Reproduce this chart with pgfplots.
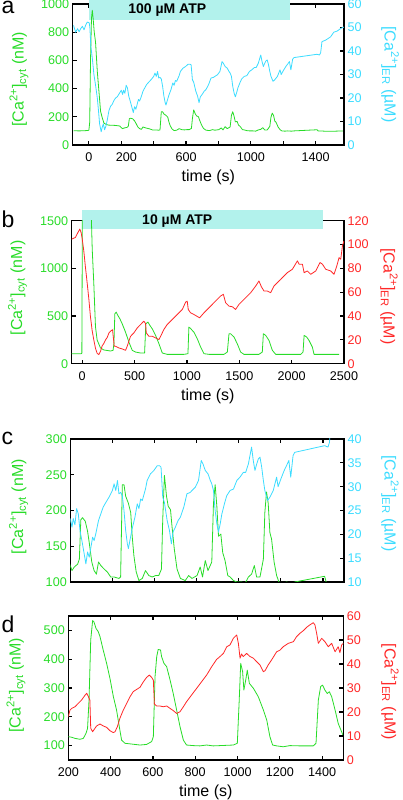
\documentclass[border=0pt]{standalone}
\usepackage{fontspec}
\setmainfont{Liberation Sans}
\usepackage{pgfplots}
\usepackage{pgfplotstable}
\pgfplotsset{compat=1.18}
\definecolor{ggreen}{RGB}{40,220,40}
\definecolor{gcyan}{RGB}{60,220,255}
\definecolor{gred}{RGB}{255,40,40}
\definecolor{atpbar}{RGB}{178,242,236}

\pgfplotstableread[row sep=\\]{t v\\
-95 101\\ -60 100\\ -30 101\\ -5 103\\ 0 106\\ 5 160\\ 10 600\\ 16 900\\ 21 955\\ 26 900\\ 33 800\\ 41 730\\ 52 520\\ 62 380\\ 72 240\\ 83 190\\ 93 155\\ 108 145\\ 123 141\\ 160 139\\ 190 135\\
200 123\\ 208 116\\ 219 121\\ 235 125\\ 243 132\\ 250 187\\ 258 190\\ 271 185\\ 282 171\\ 290 155\\ 302 128\\ 313 116\\ 324 111\\ 334 128\\ 345 123\\ 361 118\\ 376 114\\ 392 107\\ 408 107\\ 431 105\\ 439 107\\ 447 236\\ 455 236\\ 463 220\\ 476 210\\ 487 197\\ 494 164\\ 502 137\\ 513 114\\ 526 102\\ 542 105\\ 557 116\\ 573 109\\ 589 107\\ 605 109\\ 620 109\\ 633 118\\ 639 187\\ 647 249\\ 657 220\\ 665 206\\ 676 201\\ 683 178\\ 694 146\\ 707 118\\ 723 105\\ 746 102\\ 762 109\\ 778 105\\ 802 109\\ 817 121\\ 828 107\\ 841 130\\ 854 116\\ 872 128\\ 880 210\\ 888 236\\ 896 206\\ 904 164\\ 915 167\\ 924 141\\ 935 130\\ 948 109\\ 959 107\\ 975 102\\ 991 100\\ 1014 100\\ 1030 98\\ 1046 107\\ 1061 111\\ 1074 123\\ 1085 107\\ 1101 107\\ 1117 132\\ 1124 197\\ 1132 226\\ 1140 210\\ 1148 169\\ 1156 160\\ 1168 128\\ 1180 109\\ 1191 100\\ 1211 98\\ 1227 100\\ 1250 98\\ 1266 100\\ 1408 108\\ 1416 99\\ 1439 99\\ 1471 97\\ 1520 98\\ 1574 100\\
}\greenA

\pgfplotstableread[row sep=\\]{t v\\
-95 50.9\\ -82 48\\ -70 49.5\\ -60 48.2\\ -51 49.5\\ -40 50.5\\ -30 49\\ -20 51\\ -10 52.3\\ 2 52\\ 6 50\\ 12 42\\ 21 37\\ 31 30\\ 42 25\\ 52 20\\ 60 14\\ 66 9\\ 76 5.6\\ 82 7.5\\ 89 9\\ 97 6.5\\ 105 8\\ 113 10.5\\ 124 14.7\\ 134 16.5\\ 144 17.3\\ 155 19\\ 165 20\\ 175 20.5\\ 185 21.6\\
200 23.3\\ 208 21.5\\ 214 23.3\\ 222 22\\ 230 25.4\\ 238 24.3\\ 246 20.8\\ 255 18.7\\ 266 15.9\\ 274 13.8\\ 282 16.3\\ 290 15.2\\ 298 17.3\\ 306 19.4\\ 313 18.7\\ 321 20.1\\ 334 22.9\\ 345 24.3\\ 356 25.7\\ 369 26.7\\ 384 27.8\\ 400 29.2\\ 408 30.6\\ 416 29.2\\ 424 31.3\\ 431 28.5\\ 439 28.8\\ 447 28.1\\ 455 25\\ 463 20.8\\ 471 18\\ 476 17\\ 483 18.7\\ 494 21.2\\ 507 23.6\\ 518 26.4\\ 526 25.4\\ 534 27.4\\ 542 27.1\\ 557 29.5\\ 565 31.3\\ 573 32\\ 581 32.7\\ 597 33.4\\ 613 34.4\\ 624 34.4\\ 631 34.1\\ 639 27.8\\ 647 26.7\\ 660 22.9\\ 671 20.8\\ 680 18\\ 688 20.5\\ 699 21.5\\ 712 22.9\\ 723 23.6\\ 739 25.7\\ 754 28.5\\ 770 28.8\\ 778 29.2\\ 794 29.9\\ 809 31.3\\ 822 35.5\\ 830 34.8\\ 841 33.4\\ 854 32.7\\ 865 31.3\\ 872 30.6\\ 880 29.2\\ 888 25\\ 896 22.2\\ 904 20.5\\ 912 22.2\\ 920 24.3\\ 932 26.4\\ 943 28.1\\ 959 29.2\\ 975 29.5\\ 991 31.3\\ 1006 32\\ 1022 33\\ 1033 33\\ 1046 34.8\\ 1061 38.3\\ 1069 35.5\\ 1077 33.4\\ 1085 34.7\\ 1093 35.8\\ 1101 36.2\\ 1109 34.1\\ 1117 31.3\\ 1124 29.2\\ 1137 27.1\\ 1148 27.8\\ 1164 29.2\\ 1180 32\\ 1187 30\\ 1200 31.6\\ 1216 33.4\\ 1227 34.4\\ 1238 35.5\\ 1247 32\\ 1258 36.5\\ 1266 37.2\\ 1408 38.6\\ 1424 38.3\\ 1431 39.3\\ 1439 44\\ 1461 44.6\\ 1492 46\\ 1512 48\\ 1533 48.5\\ 1553 49.5\\ 1574 50.2\\
}\cyanA

\pgfplotstableread[row sep=\\]{t v\\
-100 105\\ -10 105\\ -3 110\\ 2 1600\\ 86 1600\\ 96 1200\\ 111 843\\ 127 388\\ 143 248\\ 175 165\\ 207 144\\ 271 133\\ 295 140\\ 303 209\\ 312 523\\ 325 541\\ 341 506\\ 360 471\\ 382 419\\ 414 331\\ 446 227\\ 478 140\\ 510 122\\ 558 112\\ 596 112\\ 608 419\\ 628 436\\ 647 401\\ 669 366\\ 701 297\\ 733 209\\ 765 112\\ 812 98\\ 972 98\\ 1010 105\\ 1019 384\\ 1035 370\\ 1051 349\\ 1067 331\\ 1099 262\\ 1131 174\\ 1163 105\\ 1211 98\\ 1354 98\\ 1386 122\\ 1402 314\\ 1418 314\\ 1450 279\\ 1481 209\\ 1513 122\\ 1545 98\\ 1688 98\\ 1720 122\\ 1730 314\\ 1752 297\\ 1784 244\\ 1816 140\\ 1848 98\\ 2087 98\\ 2109 122\\ 2119 297\\ 2144 279\\ 2166 244\\ 2198 174\\ 2214 98\\ 2278 98\\ 2453 98\\
}\greenB

\pgfplotstableread[row sep=\\]{t v\\
-100 104.5\\ -64 106\\ -41 110\\ -23 113\\ -10 110\\ 0 105\\ 15 95\\ 30 82\\ 48 67.5\\ 64 54\\ 79 39.5\\ 95 28\\ 111 20\\ 127 13\\ 143 8.7\\ 159 7.6\\ 175 10.4\\ 191 15\\ 207 17\\ 223 20\\ 239 22\\ 255 25.7\\ 271 27.3\\ 290 28.5\\ 300 20\\ 306 14.6\\ 319 14.6\\ 350 13.2\\ 382 12.4\\ 414 11.2\\ 430 14.6\\ 462 23\\ 494 25.9\\ 526 30\\ 558 32.9\\ 589 35.7\\ 605 33.7\\ 612 25.9\\ 637 23\\ 669 23\\ 701 21.6\\ 733 20.2\\ 749 23\\ 780 28.7\\ 812 32.9\\ 860 37.1\\ 908 41.3\\ 956 45.5\\ 988 51.7\\ 1003 52.5\\ 1013 45.5\\ 1035 42.7\\ 1067 41.3\\ 1121 38.5\\ 1163 42.7\\ 1226 48.3\\ 1290 54\\ 1322 56.8\\ 1348 58.2\\ 1370 51.1\\ 1402 48.3\\ 1434 47.8\\ 1465 45.5\\ 1497 49.7\\ 1545 54\\ 1609 59.6\\ 1657 65.2\\ 1688 69.4\\ 1711 64.6\\ 1736 61\\ 1768 61\\ 1800 59.6\\ 1832 65.2\\ 1896 70.8\\ 1959 76.4\\ 2007 79.2\\ 2055 86.3\\ 2071 83.5\\ 2103 83.5\\ 2119 76.4\\ 2150 77.8\\ 2182 75\\ 2230 77.8\\ 2271 84.9\\ 2294 83.5\\ 2326 79.2\\ 2373 77.8\\ 2405 75\\ 2431 82\\ 2453 89\\ 2469 87.7\\ 2485 98.9\\ 2500 103\\
}\redB

\pgfplotstableread[row sep=\\]{t v\\
200 131\\ 216 129\\ 232 125\\ 255 122\\ 271 125\\ 284 143\\ 291 160\\ 298 258\\ 306 467\\ 315 534\\ 321 530\\ 331 507\\ 342 495\\ 350 478\\ 365 432\\ 381 386\\ 397 333\\ 413 270\\ 428 224\\ 441 166\\ 452 119\\ 468 108\\ 492 106\\ 539 102\\ 570 104\\ 594 114\\ 602 131\\ 610 339\\ 618 409\\ 625 434\\ 636 432\\ 641 409\\ 652 386\\ 665 374\\ 681 328\\ 696 281\\ 712 224\\ 728 166\\ 744 119\\ 759 102\\ 791 100\\ 822 99\\ 854 102\\ 885 99\\ 917 100\\ 980 102\\ 999 108\\ 1008 258\\ 1015 386\\ 1024 357\\ 1030 293\\ 1040 333\\ 1046 362\\ 1056 316\\ 1075 299\\ 1098 270\\ 1122 224\\ 1138 189\\ 1153 131\\ 1166 102\\ 1185 99\\ 1216 96\\ 1248 100\\ 1295 99\\ 1358 99\\ 1371 108\\ 1382 258\\ 1393 305\\ 1402 310\\ 1413 293\\ 1424 281\\ 1434 287\\ 1445 270\\ 1461 224\\ 1476 177\\ 1492 148\\ 1500 133\\
}\greenD

\pgfplotstableread[row sep=\\]{t v\\
200 18\\ 208 20.8\\ 216 21.5\\ 232 22.2\\ 247 23.6\\ 263 25\\ 279 27\\ 287 27.8\\ 295 26.4\\ 302 25\\ 306 13.2\\ 315 11.8\\ 326 13.2\\ 334 14.2\\ 350 15\\ 365 14.2\\ 381 13.6\\ 397 12.2\\ 413 11.4\\ 421 11.8\\ 432 13.9\\ 444 17.4\\ 460 20.8\\ 476 23.6\\ 492 26.4\\ 507 28.5\\ 523 29.4\\ 539 30.3\\ 555 32.6\\ 570 34.4\\ 583 35.4\\ 594 34.4\\ 602 33.3\\ 607 23.3\\ 618 22.5\\ 633 22.5\\ 649 22.2\\ 665 22.5\\ 681 21.5\\ 696 20.6\\ 712 19.4\\ 728 20.1\\ 744 22.2\\ 759 24.3\\ 783 27.1\\ 807 29.9\\ 830 32.6\\ 854 35.4\\ 878 38.9\\ 901 41.9\\ 917 43.1\\ 933 44.4\\ 949 47.2\\ 964 47.9\\ 980 50.7\\ 996 52.1\\ 1004 48.6\\ 1012 42.4\\ 1019 44.2\\ 1027 43.1\\ 1043 44.4\\ 1059 43.1\\ 1075 42.4\\ 1090 41\\ 1106 39.6\\ 1122 36.8\\ 1130 37.2\\ 1145 39.6\\ 1161 41.7\\ 1185 45.1\\ 1201 45.8\\ 1216 47.2\\ 1240 48.6\\ 1264 49.3\\ 1279 51.4\\ 1295 52.8\\ 1311 53.9\\ 1327 55.3\\ 1342 56.3\\ 1358 57.2\\ 1366 56.3\\ 1374 52.8\\ 1382 48.6\\ 1398 50.7\\ 1413 49.3\\ 1429 47.2\\ 1445 48.6\\ 1461 45.1\\ 1476 47.2\\ 1484 44.7\\ 1492 47.9\\ 1500 48.6\\
}\redD

\pgfplotsset{
  base/.style={scale only axis, clip mode=individual, tick align=inside,
    major tick length=4pt,
    axis line style={line width=1.5pt,-},
    every tick/.style={black,line width=1.2pt},
    tick label style={font=\fontsize{12.6}{14}\selectfont},
    label style={font=\fontsize{16}{18}\selectfont},
    /pgf/number format/assume math mode=true,
    /pgf/number format/set thousands separator={},
    scaled ticks=false, minor tick num=0},
  leftax/.style={base, ytick pos=left, xtick pos=both,
    yticklabel style={text=ggreen}, ylabel style={text=ggreen, anchor=center},
    xlabel style={anchor=center},
    xticklabel style={yshift=-4pt}},
  rightax/.style={base, axis x line=none, axis y line*=right, ytick pos=right,
    xtick=\empty, yticklabel style={text=#1},
    ylabel style={text=#1, rotate=180, anchor=center}},
  trace/.style={line width=0.8pt, line join=round},
}
\newcommand{\cyt}{[Ca\textsuperscript{2+}]\textsubscript{cyt} (nM)}
\newcommand{\er}{[Ca\textsuperscript{2+}]\textsubscript{ER} (µM)}

\begin{document}
\begin{tikzpicture}
\useasboundingbox (0pt,0pt) rectangle (402pt,800pt);
\tikzset{lett/.style={anchor=base west, font=\fontsize{23}{26}\selectfont, inner sep=0pt}}
\node[lett] at (1.5pt,786.7pt) {a};
\node[lett] at (1.5pt,572pt) {b};
\node[lett] at (1.5pt,355pt) {c};
\node[lett] at (1.5pt,167pt) {d};

% ---------- panel a ----------
\begin{axis}[leftax, at={(72.7pt,655pt)}, anchor=south west, width=271.3pt, height=141pt,
  xmin=-100, xmax=1575, ymin=0, ymax=1000,
  xtick={0,200,...,1400}, xticklabels={0,\hspace*{10pt}200,,600,,1000,,1400},
  ytick={0,200,...,1000},
  xlabel={time (s)}, xlabel style={at={(axis description cs:0.5,-0.227)}},
  ylabel={\cyt}, ylabel style={at={(axis description cs:-0.198,0.465)}}]
\fill[atpbar] (axis cs:0,887) rectangle (axis cs:1240,1028);
\node[font=\fontsize{14}{16}\selectfont\bfseries] at (axis cs:484,957) {100 µM ATP};
\addplot[trace, ggreen] table[x=t,y=v] {\greenA};
\end{axis}
\begin{axis}[rightax=gcyan, at={(72.7pt,655pt)}, anchor=south west, width=271.3pt, height=141pt,
  xmin=-100, xmax=1575, ymin=0, ymax=60, ytick={0,10,...,60},
  ylabel={\er}, ylabel style={at={(axis description cs:1.170,0.5)}}]
\addplot[trace, gcyan] table[x=t,y=v] {\cyanA};
\end{axis}

% ---------- panel b ----------
\begin{axis}[leftax, at={(71.7pt,436.3pt)}, anchor=south west, width=272.3pt, height=143pt,
  xmin=-100, xmax=2500, ymin=0, ymax=1500,
  xtick={0,500,...,2500}, ytick={0,500,1000,1500},
  xlabel={time (s)}, xlabel style={at={(axis description cs:0.5,-0.231)}},
  ylabel={\cyt}, ylabel style={at={(axis description cs:-0.199,0.53)}}]
\fill[atpbar] (axis cs:0,1409) rectangle (axis cs:2304,1611);
\node[font=\fontsize{14}{16}\selectfont\bfseries] at (axis cs:908,1500) {10 µM ATP};
\addplot[trace, ggreen] table[x=t,y=v] {\greenB};
\end{axis}
\begin{axis}[rightax=gred, at={(71.7pt,436.3pt)}, anchor=south west, width=272.3pt, height=143pt,
  xmin=-100, xmax=2500, ymin=0, ymax=120, ytick={0,20,...,120},
  ylabel={\er}, ylabel style={at={(axis description cs:1.165,0.47)}}]
\addplot[trace, gred] table[x=t,y=v] {\redB};
\end{axis}

% ---------- panel c ----------
\begin{axis}[leftax, at={(70.3pt,218pt)}, anchor=south west, width=273.7pt, height=143pt,
  xmin=200, xmax=1500, ymin=100, ymax=300,
  xtick={200,400,...,1400}, xticklabels={},
  ytick={100,150,...,300},
  ylabel={\cyt}, ylabel style={at={(axis description cs:-0.189,0.527)}}]
\addplot[trace, ggreen] table[x=t,y=v] {\greenA};
\end{axis}
\begin{axis}[rightax=gcyan, at={(70.3pt,218pt)}, anchor=south west, width=273.7pt, height=143pt,
  xmin=200, xmax=1500, ymin=10, ymax=40, ytick={10,15,...,40},
  ylabel={\er}, ylabel style={at={(axis description cs:1.168,0.55)}}]
\addplot[trace, gcyan] table[x=t,y=v] {\cyanA};
\end{axis}

% ---------- panel d ----------
\begin{axis}[leftax, at={(68.3pt,40pt)}, anchor=south west, width=275pt, height=144pt,
  xmin=200, xmax=1500, ymin=50, ymax=550,
  xtick={200,400,...,1400}, ytick={100,200,...,500},
  xlabel={time (s)}, xlabel style={at={(axis description cs:0.5,-0.222)}},
  ylabel={\cyt}, ylabel style={at={(axis description cs:-0.190,0.52)}}]
\addplot[trace, ggreen] table[x=t,y=v] {\greenD};
\end{axis}
\begin{axis}[rightax=gred, at={(68.3pt,40pt)}, anchor=south west, width=275pt, height=144pt,
  xmin=200, xmax=1500, ymin=0, ymax=60, ytick={0,10,...,60},
  ylabel={\er}, ylabel style={at={(axis description cs:1.170,0.474)}}]
\addplot[trace, gred] table[x=t,y=v] {\redD};
\end{axis}
\end{tikzpicture}
\end{document}
